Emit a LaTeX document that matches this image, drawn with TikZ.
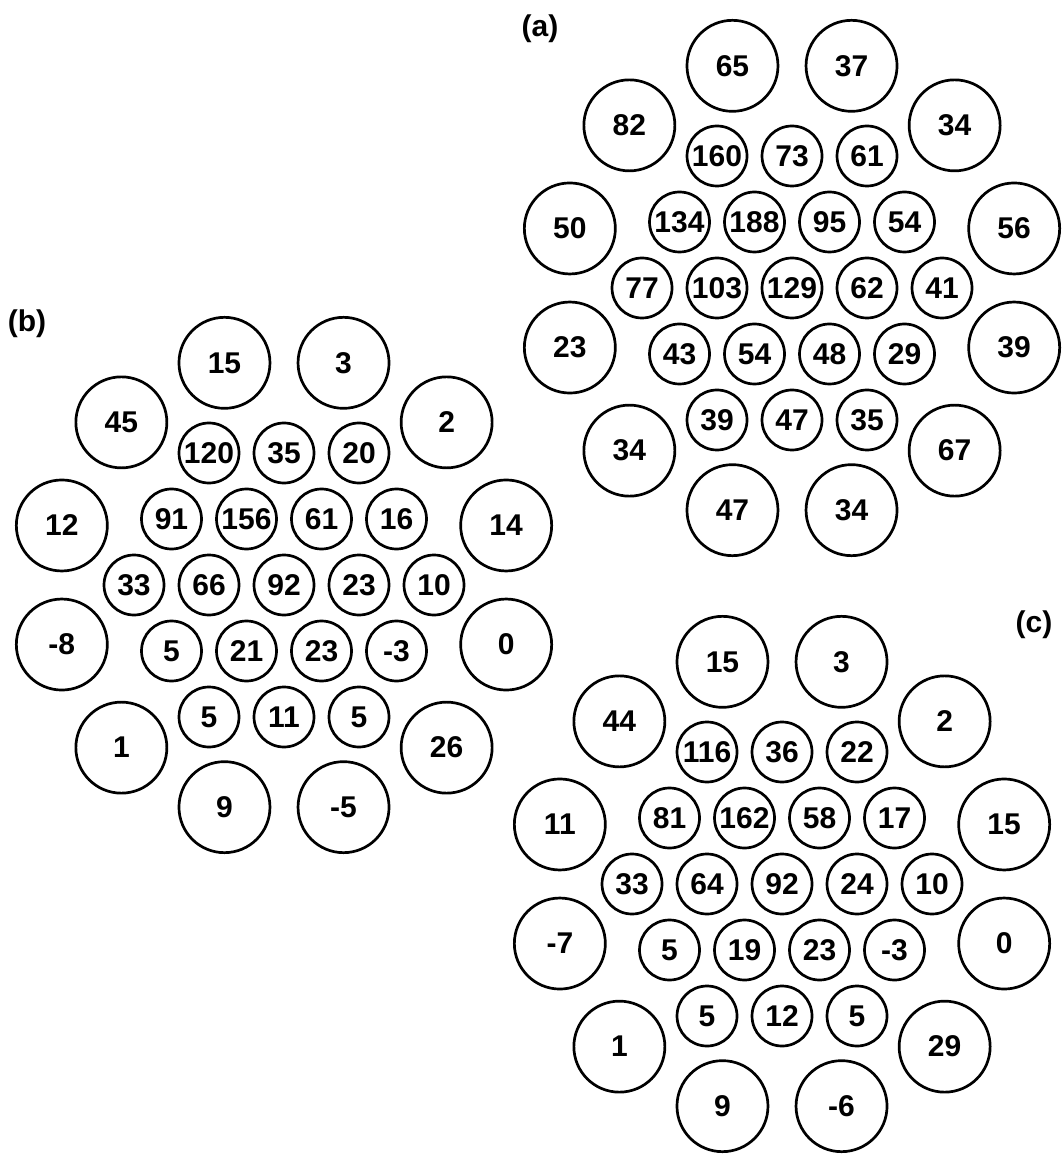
\documentclass[tikz,border=0pt]{standalone}
\usepackage{fontspec}
\setmainfont{Liberation Sans}
\usepackage{tikz}

\tikzset{
  cell/.style={circle, draw, line width=1.35pt, inner sep=0pt, minimum size=30pt},
  rim/.style={circle, draw, line width=1.35pt, inner sep=0pt, minimum size=45.5pt},
  tag/.style={inner sep=0pt}
}

% one panel: prefix, centre, five rows of the inner hexagon, outer ring
\newcommand{\hexpanel}[8]{%
  \begin{scope}[shift={#2}]
    \foreach \v [count=\i from 0] in {#3} \node[cell] (#1-r1-\i) at ({(\i-1)*75},-132) {\v};
    \foreach \v [count=\i from 0] in {#4} \node[cell] (#1-r2-\i) at ({(\i-1.5)*75},-66) {\v};
    \foreach \v [count=\i from 0] in {#5} \node[cell] (#1-r3-\i) at ({(\i-2)*75},0) {\v};
    \foreach \v [count=\i from 0] in {#6} \node[cell] (#1-r4-\i) at ({(\i-1.5)*75},66) {\v};
    \foreach \v [count=\i from 0] in {#7} \node[cell] (#1-r5-\i) at ({(\i-1)*75},132) {\v};
    \foreach \v [count=\k from 0] in {#8} \node[rim] (#1-o\k) at ({30*\k-105}:230) {\v};
  \end{scope}}

\begin{document}
\begin{tikzpicture}[x=0.5pt, y=-0.5pt, font=\fontsize{15}{18}\selectfont\bfseries]
  \useasboundingbox (0,0) rectangle (1062,1159);

  % (a)
  \node[tag] (lbl-a) at (540,29) {(a)};
  \hexpanel{a}{(792,288)}{160,73,61}{134,188,95,54}{77,103,129,62,41}{43,54,48,29}{39,47,35}
    {65,37,34,56,39,67,34,47,34,23,50,82}

  % (b)
  \node[tag] (lbl-b) at (27,324) {(b)};
  \hexpanel{b}{(284,585)}{120,35,20}{91,156,61,16}{33,66,92,23,10}{5,21,23,-3}{5,11,5}
    {15,3,2,14,0,26,-5,9,1,-8,12,45}

  % (c)
  \node[tag] (lbl-c) at (1034,625) {(c)};
  \hexpanel{c}{(782,884)}{116,36,22}{81,162,58,17}{33,64,92,24,10}{5,19,23,-3}{5,12,5}
    {15,3,2,15,0,29,-6,9,1,-7,11,44}
\end{tikzpicture}
\end{document}
